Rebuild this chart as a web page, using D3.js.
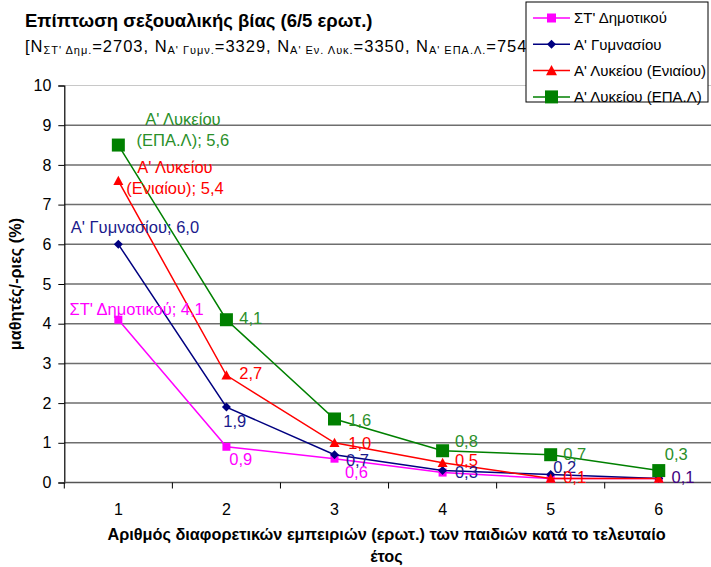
<!DOCTYPE html>
<html><head><meta charset="utf-8">
<script src="https://cdn.jsdelivr.net/npm/d3@7"></script>
<style>body{margin:0;background:#fff}svg{display:block;font-family:"Liberation Sans",Arial,sans-serif}</style>
</head><body><svg id="c" width="711" height="567"></svg>
<script>
// ---------- data ----------
const categories = [1, 2, 3, 4, 5, 6];
const yTicks = [0, 1, 2, 3, 4, 5, 6, 7, 8, 9, 10];
const seriesNames = ["ΣΤ' Δημοτικού", "Α' Γυμνασίου", "Α' Λυκείου (Ενιαίου)", "Α' Λυκείου (ΕΠΑ.Λ)"];
const dimotiko = [4.1, 0.9, 0.6, 0.25, 0.1, 0.1];
const gymnasio = [6.0, 1.9, 0.7, 0.3, 0.2, 0.1];
const lykeioEniaio = [7.6, 2.7, 1.0, 0.5, 0.1, 0.1];
const lykeioEpal = [8.5, 4.1, 1.6, 0.8, 0.7, 0.3];
const dimotikoLabels = [["ΣΤ' Δημοτικού; 4,1"], ["0,9"], ["0,6"], null, null, null];
const gymnasioLabels = [["Α' Γυμνασίου; 6,0"], ["1,9"], ["0,7"], ["0,3"], ["0,2"], ["0,1"]];
const eniaioLabels = [["Α' Λυκείου", "(Ενιαίου); 5,4"], ["2,7"], ["1,0"], ["0,5"], ["0,1"], null];
const epalLabels = [["Α' Λυκείου", "(ΕΠΑ.Λ); 5,6"], ["4,1"], ["1,6"], ["0,8"], ["0,7"], ["0,3"]];
const titleText = "Επίπτωση σεξουαλικής βίας (6/5 ερωτ.)";
const subtitleParts = [["[Ν", false], ["ΣΤ' Δημ.", true], ["=2703, Ν", false], ["Α' Γυμν.", true],
  ["=3329, Ν", false], ["Α' Εν. Λυκ.", true], ["=3350, Ν", false], ["Α' ΕΠΑ.Λ.", true], ["=754]", false]];
const yTitle = "μαθητές/-ριες (%)";
const xTitleLines = ["Αριθμός διαφορετικών εμπειριών (ερωτ.) των παιδιών κατά το τελευταίο", "έτος"];

// ---------- layout / style ----------
const styles = [
  {color: "#FF00FF", label: "#FF00FF", marker: "square", size: 8, lsize: 9},
  {color: "#000080", label: "#1a1a8c", marker: "diamond", size: 9, lsize: 9},
  {color: "#FF0000", label: "#FF0000", marker: "triangle", size: 10, lsize: 11},
  {color: "#008000", label: "#2a8f2a", marker: "square", size: 13, lsize: 13}
];
// [dx, dy(center), anchor, colorOverride]
const labelOffsets = [
  [[18.3, -10.7, "middle"], [2.8, 12, "start"], [10.4, 13, "start"], null, null, null],
  [[16.6, -17.6, "middle"], [-3.2, 13.6, "start"], [11.4, 5, "start"], [12.3, 1.7, "start"], [2.5, -8, "start"], [12.8, -1, "start", "#400080"]],
  [[56.6, -13.4, "middle"], [12.8, -2, "start"], [13.7, 0, "start"], [12.3, -2.6, "start"], [12.5, -1, "start"], null],
  [[64.6, -25.7, "middle"], [12.8, -1.4, "start"], [13.7, 1, "start"], [12.3, -9.7, "start"], [12.5, -0.7, "start"], [6, -16.6, "start"]]
];
const labelFont = 16.5;

const series = [dimotiko, gymnasio, lykeioEniaio, lykeioEpal];
const seriesLabels = [dimotikoLabels, gymnasioLabels, eniaioLabels, epalLabels];

const svg = d3.select("#c");
const L = 64.3, R = 712.8, T = 85.5, B = 482.5;
const x = d3.scalePoint().domain(categories).range([L, R]).padding(0.5);
const band = (R - L) / categories.length;
const y = d3.scaleLinear().domain([0, 10]).range([B, T]);

// gridlines
svg.append("g").selectAll("line").data(yTicks.filter(d => d > 0 && d < 10)).join("line")
  .attr("x1", L).attr("x2", R).attr("y1", d => y(d)).attr("y2", d => y(d))
  .attr("stroke", "#6e6e6e").attr("stroke-width", 1.5);
svg.append("line").attr("x1", L).attr("x2", R).attr("y1", y(10)).attr("y2", y(10))
  .attr("stroke", "#c8c8c8").attr("stroke-width", 1);

// y axis
const yAxis = d3.axisLeft(y).tickValues(yTicks).tickSize(6).tickPadding(7).tickFormat(d3.format("d"));
const gy = svg.append("g").attr("transform", `translate(${L},0)`).call(yAxis);
gy.select(".domain").attr("stroke", "#000").attr("stroke-width", 1.2);
gy.selectAll(".tick line").attr("stroke", "#000");
gy.selectAll("text").attr("font-size", 16).attr("font-family", "Liberation Sans, Arial, sans-serif").attr("fill", "#000");

// x axis
const gx = svg.append("g").attr("transform", `translate(0,${B})`);
gx.append("line").attr("x1", L).attr("x2", R).attr("stroke", "#555").attr("stroke-width", 1.5);
gx.selectAll(".tk").data(d3.range(categories.length + 1)).join("line")
  .attr("x1", i => L + i * band).attr("x2", i => L + i * band).attr("y1", 0).attr("y2", 6)
  .attr("stroke", "#000");
gx.selectAll(".tl").data(categories).join("text")
  .attr("x", d => x(d)).attr("y", 32.5).attr("text-anchor", "middle")
  .attr("font-size", 16).text(d => d);

// lines and markers
function markerPath(type, s) {
  const h = s / 2;
  if (type === "square") return `M${-h},${-h}H${h}V${h}H${-h}Z`;
  if (type === "diamond") return `M0,${-h}L${h},0L0,${h}L${-h},0Z`;
  return `M0,${-h}L${h},${h * 0.85}L${-h},${h * 0.85}Z`;
}
const line = d3.line().x((d, i) => x(categories[i])).y(d => y(d));
series.forEach((vals, si) => {
  const st = styles[si];
  const g = svg.append("g");
  g.append("path").attr("d", line(vals)).attr("fill", "none").attr("stroke", st.color).attr("stroke-width", 1.5);
  g.selectAll("path.m").data(vals).join("path").attr("class", "m")
    .attr("transform", (d, i) => `translate(${x(categories[i])},${y(d)})`)
    .attr("d", markerPath(st.marker, st.size)).attr("fill", st.color);
});

// data labels
series.forEach((vals, si) => {
  const st = styles[si];
  vals.forEach((v, i) => {
    const lab = seriesLabels[si][i];
    const off = labelOffsets[si][i];
    if (!lab || !off) return;
    const px = x(categories[i]) + off[0];
    lab.forEach((t, k) => {
      svg.append("text").attr("x", px)
        .attr("y", y(v) + off[1] + k * 21 + labelFont * 0.36)
        .attr("text-anchor", off[2]).attr("font-size", labelFont)
        .attr("fill", off[3] || st.label).text(t);
    });
  });
});

// titles
svg.append("text").attr("x", 25).attr("y", 27).attr("font-size", 18.5).attr("font-weight", "bold").text(titleText);
const sub = svg.append("text").attr("x", 25).attr("y", 52).attr("font-size", 16.5)
  .attr("textLength", 507).attr("lengthAdjust", "spacing");
subtitleParts.forEach(([t, isSub], i) => {
  const prevSub = i > 0 && subtitleParts[i - 1][1];
  const ts = sub.append("tspan").text(t);
  if (isSub) ts.attr("font-size", 11).attr("dy", 1.5);
  else if (prevSub) ts.attr("dy", -1.5);
});
svg.append("text").attr("transform", `translate(21,${(T + B) / 2}) rotate(-90)`)
  .attr("text-anchor", "middle").attr("font-size", 16.3).attr("font-weight", "bold").text(yTitle);
xTitleLines.forEach((t, k) => {
  svg.append("text").attr("x", 386.5).attr("y", 540 + k * 22).attr("text-anchor", "middle")
    .attr("font-size", 16.3).attr("font-weight", "bold").text(t);
});

// legend
const lg = svg.append("g");
lg.append("rect").attr("x", 526).attr("y", 2).attr("width", 182).attr("height", 100)
  .attr("fill", "#fff").attr("stroke", "#000").attr("stroke-width", 1);
seriesNames.forEach((name, i) => {
  const st = styles[i];
  const cy = 18 + i * 26.3;
  lg.append("line").attr("x1", 533).attr("x2", 570).attr("y1", cy).attr("y2", cy)
    .attr("stroke", st.color).attr("stroke-width", 1.5);
  lg.append("path").attr("transform", `translate(551.5,${cy})`).attr("d", markerPath(st.marker, st.lsize)).attr("fill", st.color);
  lg.append("text").attr("x", 574).attr("y", cy + 5.3).attr("font-size", 15).text(name);
});
</script></body></html>
